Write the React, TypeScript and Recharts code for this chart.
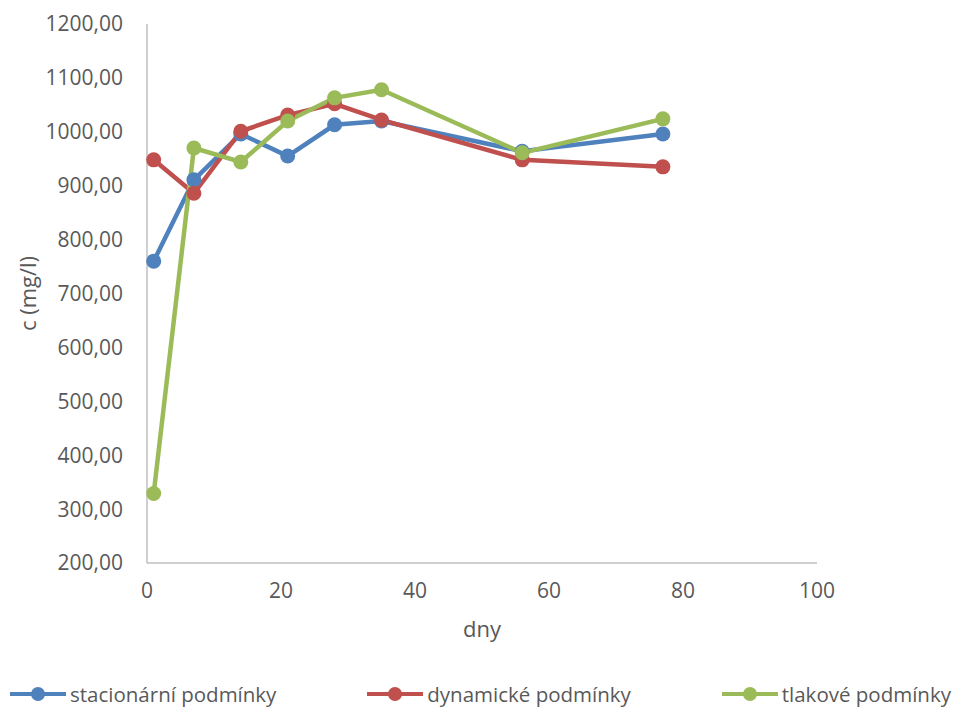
import React from 'react';
import { LineChart, Line, XAxis, YAxis, Legend } from 'recharts';

// days of measurement
const days = [1, 7, 14, 21, 28, 35, 56, 77];

// concentration c (mg/l) per condition
const stacionarni = [760, 911, 996, 955, 1013, 1020, 964, 996];
const dynamicke = [948, 886, 1001, 1031, 1052, 1022, 948, 935];
const tlakove = [329, 970, 944, 1020, 1063, 1078, 961, 1024];

const xTicks = [0, 20, 40, 60, 80, 100];
const yTicks = [200, 300, 400, 500, 600, 700, 800, 900, 1000, 1100, 1200];

const series = [
  { key: 'stacionarni', name: 'stacionární podmínky', color: '#4f81bd' },
  { key: 'dynamicke', name: 'dynamické podmínky', color: '#c0504d' },
  { key: 'tlakove', name: 'tlakové podmínky', color: '#9bbb59' },
];

const data = days.map((d, i) => ({
  den: d,
  stacionarni: stacionarni[i],
  dynamicke: dynamicke[i],
  tlakove: tlakove[i],
}));

const FONT = '"Open Sans", sans-serif';
const TEXT = '#595959';
const AXIS = '#bfbfbf';

const formatC = (v: number) => v.toFixed(2).replace('.', ',');

const LegendContent = () => (
  <div
    style={{
      display: 'flex',
      justifyContent: 'space-between',
      alignItems: 'center',
      padding: '0 4px 0 10px',
      fontFamily: FONT,
      fontSize: 20.5,
      color: TEXT,
    }}
  >
    {series.map((s) => (
      <div key={s.key} style={{ display: 'flex', alignItems: 'center' }}>
        <svg width={56} height={16} style={{ marginRight: 4 }}>
          <line x1={0} y1={8} x2={56} y2={8} stroke={s.color} strokeWidth={4} />
          <circle cx={28} cy={8} r={7} fill={s.color} />
        </svg>
        <span>{s.name}</span>
      </div>
    ))}
  </div>
);

export default function App() {
  return (
    <div style={{ position: 'absolute', top: 0, left: 0, background: '#fff' }}>
      <LineChart
        width={955}
        height={711}
        data={data}
        margin={{ top: 24, right: 138, left: 0, bottom: 0 }}
      >
        <XAxis
          dataKey="den"
          type="number"
          domain={[0, 100]}
          ticks={xTicks}
          tickLine={false}
          tickMargin={14}
          axisLine={{ stroke: AXIS, strokeWidth: 1.5 }}
          tick={{ fill: TEXT, fontSize: 21, fontFamily: FONT }}
          height={148}
          label={{
            value: 'dny',
            position: 'insideTop',
            offset: 58,
            style: { fill: TEXT, fontSize: 22, fontFamily: FONT },
          }}
        />
        <YAxis
          type="number"
          domain={[200, 1200]}
          ticks={yTicks}
          tickFormatter={formatC}
          tickLine={false}
          tickMargin={18}
          width={147}
          axisLine={{ stroke: AXIS, strokeWidth: 1.5 }}
          tick={{ fill: TEXT, fontSize: 21, fontFamily: FONT }}
          label={{
            value: 'c (mg/l)',
            angle: -90,
            position: 'insideLeft',
            offset: 28,
            style: { fill: TEXT, fontSize: 22, fontFamily: FONT, textAnchor: 'middle' },
          }}
        />
        {series.map((s) => (
          <Line
            key={s.key}
            dataKey={s.key}
            name={s.name}
            type="linear"
            stroke={s.color}
            strokeWidth={4.5}
            dot={{ r: 7.5, fill: s.color, stroke: s.color, strokeWidth: 0 }}
            activeDot={false}
            isAnimationActive={false}
          />
        ))}
        <Legend
          layout="horizontal"
          verticalAlign="middle"
          align="center"
          content={<LegendContent />}
          wrapperStyle={{ top: 680, left: 0, width: 955 }}
        />
      </LineChart>
    </div>
  );
}
